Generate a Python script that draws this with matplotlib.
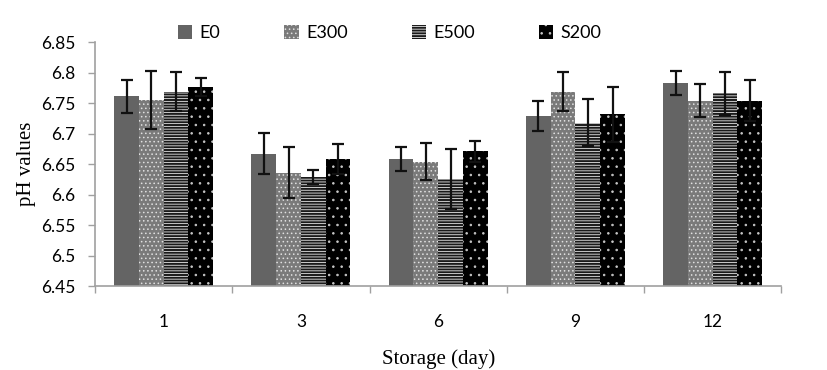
import matplotlib
matplotlib.use("Agg")
import matplotlib.pyplot as plt
import numpy as np

matplotlib.rcParams['hatch.linewidth'] = 0.6

categories = ["1", "3", "6", "9", "12"]
series = ["E0", "E300", "E500", "S200"]
E0 = [6.761, 6.667, 6.658, 6.729, 6.783]
E300 = [6.755, 6.636, 6.654, 6.769, 6.754]
E500 = [6.769, 6.629, 6.626, 6.718, 6.766]
S200 = [6.776, 6.658, 6.671, 6.732, 6.754]
E0_err = [0.027, 0.034, 0.020, 0.024, 0.020]
E300_err = [0.047, 0.042, 0.030, 0.032, 0.027]
E500_err = [0.032, 0.011, 0.049, 0.039, 0.035]
S200_err = [0.015, 0.025, 0.017, 0.045, 0.034]
yticks = [6.45, 6.5, 6.55, 6.6, 6.65, 6.7, 6.75, 6.8, 6.85]
ytick_labels = ["6.45", "6.5", "6.55", "6.6", "6.65", "6.7", "6.75", "6.8", "6.85"]

values = [E0, E300, E500, S200]
errs = [E0_err, E300_err, E500_err, S200_err]
styles = [
    dict(facecolor="#646464", hatch=None, edgecolor="#646464"),
    dict(facecolor="#7a7a7a", hatch="....", edgecolor="#e0e0e0"),
    dict(facecolor="#1a1a1a", hatch="------", edgecolor="#e8e8e8"),
    dict(facecolor="#000000", hatch="..", edgecolor="#c8c8c8"),
]

fig = plt.figure(figsize=(8.28, 3.70), dpi=100)
ax = fig.add_axes([0.1147, 0.227, 0.829, 0.659])

x = np.arange(len(categories))
bw = 0.18
for i, (vals, er, st) in enumerate(zip(values, errs, styles)):
    pos = x + (i - 1.5) * bw
    ax.bar(pos, np.array(vals) - 6.45, bottom=6.45, width=bw,
           facecolor=st["facecolor"], edgecolor=st["edgecolor"],
           hatch=st["hatch"], linewidth=0, label=series[i], zorder=2)
    ax.errorbar(pos, vals, yerr=er, fmt="none", ecolor="#111111",
                elinewidth=1.6, capsize=4.5, capthick=1.6, zorder=3)

ax.set_ylim(6.45, 6.85)
ax.set_xlim(-0.5, len(categories) - 0.5)
ax.set_yticks(yticks)
ax.set_yticklabels(ytick_labels)
ax.set_xticks(x)
ax.set_xticklabels(categories)
ax.set_xticks(np.arange(len(categories) + 1) - 0.5, minor=True)
ax.tick_params(axis="x", which="major", length=0, pad=20)
ax.tick_params(axis="x", which="minor", length=5, color="#a0a0a0", width=1)
ax.tick_params(axis="y", length=5, color="#a0a0a0", width=1, pad=9)
for lab in ax.get_xticklabels() + ax.get_yticklabels():
    lab.set_family("Lato")
    lab.set_fontsize(12.5)
for s in ["top", "right"]:
    ax.spines[s].set_visible(False)
for s in ["left", "bottom"]:
    ax.spines[s].set_color("#a0a0a0")
    ax.spines[s].set_linewidth(1.2)

ax.set_ylabel("pH values", family="Liberation Serif", fontsize=15, labelpad=4)
ax.set_xlabel("Storage (day)", family="Liberation Serif", fontsize=15, labelpad=14)

leg = ax.legend(loc="lower left", bbox_to_anchor=(0.11, 0.975), ncol=4, frameon=False,
                prop={"family": "Lato", "size": 13}, handlelength=0.8, handleheight=0.8,
                handletextpad=0.4, columnspacing=3.55, borderaxespad=0)

fig.savefig("out.png", dpi=100)
